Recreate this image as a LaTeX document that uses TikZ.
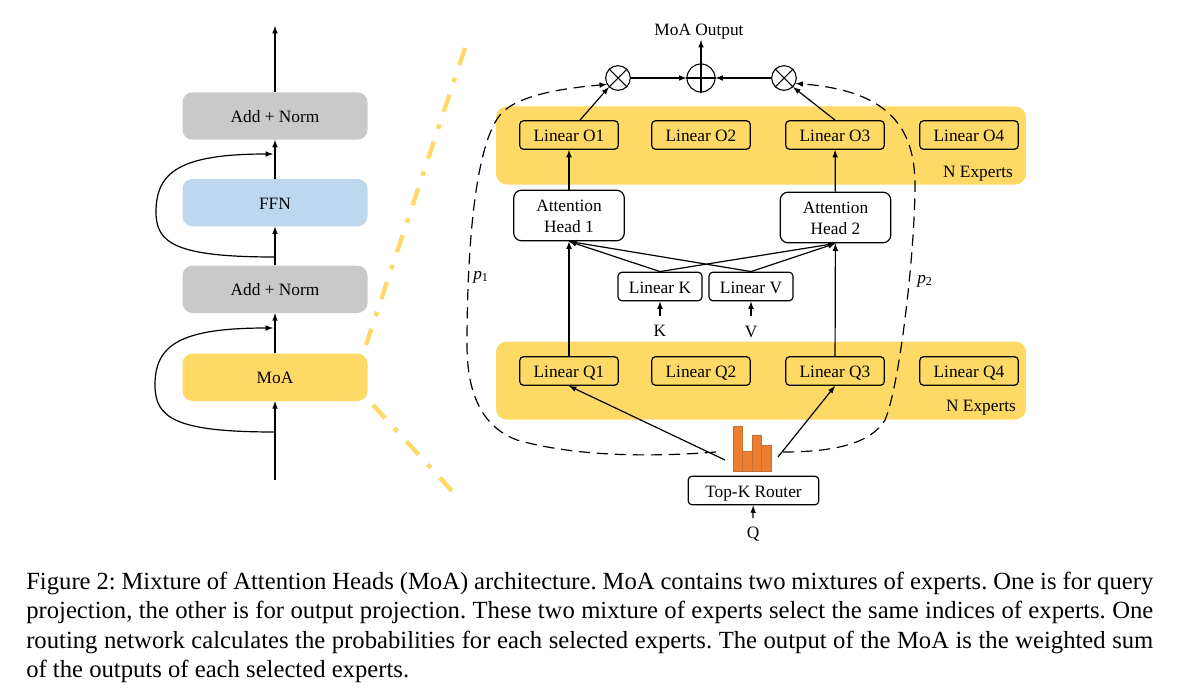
\documentclass[tikz,border=0pt]{standalone}
\usepackage{fontspec}
\setmainfont{Liberation Serif}
\usepackage{tikz}
\usetikzlibrary{arrows, shapes}
\definecolor{moaYellow}{HTML}{FFD966}
\definecolor{ffnBlue}{HTML}{BDD7EE}
\definecolor{normGray}{HTML}{C9C9C9}
\definecolor{barOrange}{HTML}{ED7D31}
\definecolor{barEdge}{HTML}{C8702F}
\newcommand{\diagfont}{\fontsize{13}{15}\selectfont}
\newcommand{\headstrut}{\rule{0pt}{10.2pt}}
\tikzstyle{arrow} = [->,>=latex,line width=.9pt]
\tikzstyle{layer} = [rectangle, rounded corners=7.5pt, minimum width=138.75pt, minimum height=35.5pt, node distance=65pt, font=\diagfont, text height=9.5pt, text depth=0pt, inner ysep=0pt]
\tikzstyle{linear} = [draw, rectangle, rounded corners=3pt, line width=.9pt, minimum width=74pt, minimum height=21.5pt, inner sep=0, font=\diagfont, text height=10pt, text depth=0pt]
\tikzstyle{small} = [linear, minimum width=63pt]
\tikzstyle{head} = [draw, rectangle, line width=.9pt, minimum width=83pt, minimum height=38pt, inner sep=0, align=center, rounded corners=6pt, font=\diagfont]
\tikzstyle{experts} = [fill=moaYellow, rectangle, rounded corners=8pt, minimum width=397.5pt, minimum height=58.5pt, inner sep=0]
\tikzstyle{label} = [inner sep=0, font=\diagfont]
\tikzstyle{mix} = [draw, circle, line width=.8pt, minimum size=18.5pt, inner sep=0]
\tikzstyle{bar} = [fill=barOrange, draw=barEdge, line width=.6pt]
\tikzstyle{zoomline} = [draw=moaYellow, line width=3.3pt, dash pattern=on 13.5pt off 10pt on 3.5pt off 10pt]
\tikzstyle{route} = [arrow, line width=.9pt, dash pattern=on 8.5pt off 5pt]
\begin{document}
\begin{tikzpicture}[x=0.75pt, y=-0.75pt, auto]
        \useasboundingbox (0,0) rectangle (1185,699);

        % left column
        \node [layer, fill=normGray] (addTop) at (275,116) {Add + Norm};
        \node [layer, fill=ffnBlue, below of=addTop] (ffn) {FFN};
        \node [layer, fill=normGray, below of=ffn] (addLow) {Add + Norm};
        \node [layer, fill=moaYellow, below of=addLow, node distance=66pt] (moa) {MoA};
        \coordinate (outTop) at (275,26);
        \coordinate (inLow) at (275,480);
        \coordinate (skipLowA) at (275,432);
        \coordinate (skipLowB) at (273,328);
        \coordinate (skipTopA) at (275,257);
        \coordinate (skipTopB) at (273,154);
        \path [draw, arrow] (inLow) -- (moa);
        \path [draw, arrow] (moa) -- (addLow);
        \path [draw, arrow] (addLow) -- (ffn);
        \path [draw, arrow] (ffn) -- (addTop);
        \path [draw, arrow] (addTop) -- (outTop);
        \draw [arrow] (skipLowA) .. controls (175,432) and (155,418) .. (155,385) .. controls (155,345) and (180,328) .. (skipLowB);
        \draw [arrow] (skipTopA) .. controls (175,257) and (156,243) .. (156,212) .. controls (156,172) and (180,154) .. (skipTopB);

        % zoom lines
        \coordinate (zoomA) at (465,48);
        \coordinate (zoomB) at (366,345);
        \coordinate (zoomC) at (373,405);
        \coordinate (zoomD) at (452,491);
        \draw [zoomline] (zoomA) -- (zoomB);
        \draw [zoomline] (zoomC) -- (zoomD);

        % expert bands
        \node [experts] (bandO) at (761,145.5) {};
        \node [experts] (bandQ) at (761,380.5) {};
        \node [label] (expO) at (978,173.5) {N Experts};
        \node [label] (expQ) at (981,407.5) {N Experts};

        % output experts
        \node [linear] (o1) at (569,135) {Linear O1};
        \node [linear] (o2) at (701,135) {Linear O2};
        \node [linear] (o3) at (835,135) {Linear O3};
        \node [linear] (o4) at (969,135) {Linear O4};

        % query experts
        \node [linear] (q1) at (569,371) {Linear Q1};
        \node [linear] (q2) at (701,371) {Linear Q2};
        \node [linear] (q3) at (835,371) {Linear Q3};
        \node [linear] (q4) at (969,371) {Linear Q4};

        % attention
        \node [head] (head1) at (569,215.5) {\headstrut Attention\\[1pt]Head 1};
        \node [head] (head2) at (835.5,217.5) {\headstrut Attention\\[1pt]Head 2};
        \node [small] (linK) at (660,286.5) {Linear K};
        \node [small] (linV) at (751,286.5) {Linear V};
        \node [label] (k) at (660,330.5) {K};
        \node [label] (v) at (751,331.5) {V};

        % mixing
        \node [mix] (mixL) at (618,78) {};
        \node [mix, minimum size=21pt] (sum) at (701,78) {};
        \node [mix] (mixR) at (784,78) {};
        \draw [line width=.8pt] (mixL.45) -- (mixL.225) (mixL.135) -- (mixL.315);
        \draw [line width=.8pt] (mixR.45) -- (mixR.225) (mixR.135) -- (mixR.315);
        \draw [line width=.8pt] (sum.north) -- (sum.south) (sum.west) -- (sum.east);
        \node [label] (output) at (699,31.5) {MoA Output};

        % router
        \foreach \barL/\barR/\barT in {733/742.5/426, 742.5/752/451, 752/761/435, 761/771/445} {
            \draw [bar] (\barL,\barT) rectangle (\barR,471);
        }
        \node [linear, minimum width=98pt] (router) at (753.5,490.5) {Top-K Router};
        \node [label] (q) at (753,534) {Q};
        \coordinate (barsL) at (725,460);
        \coordinate (barsR) at (778,457);

        % connectors
        \path [draw, arrow] (k) ++(0,-15) coordinate (kTop) (kTop) -- (linK);
        \path [draw, arrow] (v) ++(0,-16) coordinate (vTop) (vTop) -- (linV);
        \path [draw, arrow] (q) ++(0,-16) coordinate (qTop) (qTop) -- (router);
        \path [draw, arrow] (linK.north) -- (head1.south);
        \path [draw, arrow] (linV.north) -- (head1.south);
        \path [draw, arrow] (linK.north) -- (head2.south);
        \path [draw, arrow] (linV.north) -- (head2.south);
        \path [draw, arrow] (q1) -- (head1);
        \path [draw, arrow] (q3) -- (head2);
        \path [draw, arrow] (head1) -- (o1);
        \path [draw, arrow] (head2) -- (o3);
        \path [draw, arrow] (o1.north) ++(11,0) coordinate (o1Out) (o1Out) -- (mixL.225);
        \path [draw, arrow] (o3.north) -- (mixR.315);
        \path [draw, arrow] (mixL) -- (sum);
        \path [draw, arrow] (mixR) -- (sum);
        \coordinate (outEnd) at (701,40);
        \path [draw, arrow] (sum) -- (outEnd);
        \path [draw, arrow] (barsL) -- (q1.south);
        \path [draw, arrow] (barsR) -- (q3.south);

        % routing paths
        \coordinate (dashL) at (716,452);
        \coordinate (dashR) at (783,452);
        \draw [route] (dashL) .. controls (640,458) and (570,455) .. (517,440) .. controls (490,430) and (467,405) .. (467,345) .. controls (467,270) and (472,150) .. (500,115) .. controls (516,95) and (565,88) .. (mixL.210);
        \draw [route] (dashR) .. controls (830,452) and (870,445) .. (885,420) .. controls (900,385) and (915,250) .. (915,185) .. controls (915,120) and (880,90) .. (mixR.335);
        \node [label] (p1) at (481,277) {\textit{p}\textsubscript{1}};
        \node [label] (p2) at (925,281) {\textit{p}\textsubscript{2}};

        % caption
        \node [anchor=north west, inner sep=0, text width=845.25pt, align=justify, font=\fontsize{18.5}{22.2}\selectfont\frenchspacing] (caption) at (26,571.5) {Figure 2: Mixture of Attention Heads (MoA) architecture. MoA contains two mixtures of experts. One is for query\linebreak projection, the other is for output projection. These two mixture of experts select the same indices of experts. One\linebreak routing network calculates the probabilities for each selected experts. The output of the MoA is the weighted sum\linebreak of the outputs of each selected experts.};
    \end{tikzpicture}
\end{document}
